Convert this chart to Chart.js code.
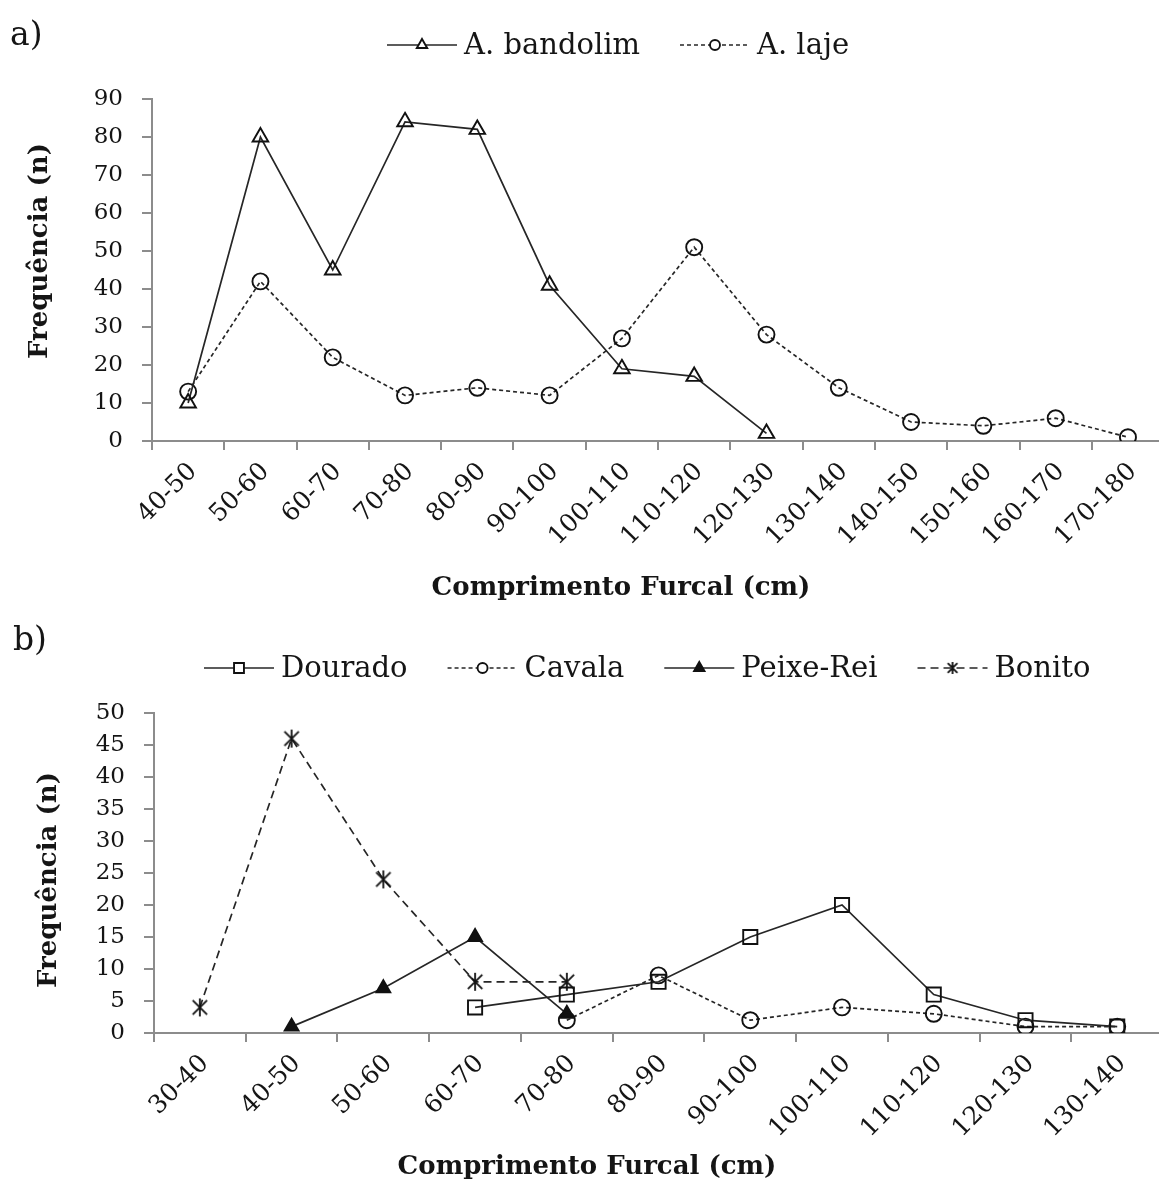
<!DOCTYPE html>
<html><head><meta charset="utf-8">
<script src="https://cdn.jsdelivr.net/npm/chart.js@4/dist/chart.umd.min.js"></script>
<style>
html,body{margin:0;padding:0;overflow:hidden;background:#fff;width:1159px;height:1185px;position:relative}
canvas{position:absolute;left:0}
#ca{top:0}
#cb{top:600px}
</style></head><body>
<canvas id="ca" width="1175" height="600"></canvas>
<canvas id="cb" width="1175" height="585"></canvas>
<script>
// ---- Data: panel a ----
const catsA = ['40-50','50-60','60-70','70-80','80-90','90-100','100-110','110-120','120-130','130-140','140-150','150-160','160-170','170-180'];
const bandolim = [10, 80, 45, 84, 82, 41, 19, 17, 2, null, null, null, null, null];
const laje = [13, 42, 22, 12, 14, 12, 27, 51, 28, 14, 5, 4, 6, 1];
const yTicksA = {min: 0, max: 90, step: 10};

// ---- Data: panel b ----
const catsB = ['30-40','40-50','50-60','60-70','70-80','80-90','90-100','100-110','110-120','120-130','130-140'];
const dourado = [null, null, null, 4, 6, 8, 15, 20, 6, 2, 1];
const cavala = [null, null, null, null, 2, 9, 2, 4, 3, 1, 1];
const peixeRei = [null, 1, 7, 15, 3, null, null, null, null, null, null];
const bonito = [4, 46, 24, 8, 8, null, null, null, null, null, null];
const yTicksB = {min: 0, max: 50, step: 5};

const FONT = '"DejaVu Serif", "Liberation Serif", serif';
const AXIS = '#8c8c8c';
const LINE = '#262626';
const TXT = '#151515';

// asterisk marker (X with a vertical bar) as a small canvas
function asterisk(r) {
  const c = document.createElement('canvas');
  const s = Math.ceil(r * 2 + 4);
  c.width = s; c.height = s;
  const g = c.getContext('2d');
  const m = s / 2;
  g.strokeStyle = '#111'; g.lineWidth = 1.8;
  g.beginPath();
  g.moveTo(m - r*0.8, m - r*0.8); g.lineTo(m + r*0.8, m + r*0.8);
  g.moveTo(m + r*0.8, m - r*0.8); g.lineTo(m - r*0.8, m + r*0.8);
  g.moveTo(m, m - r); g.lineTo(m, m + r);
  g.stroke();
  return c;
}
const starBig = asterisk(9);
const starSmall = asterisk(6);

const deco = {
  id: 'deco',
  afterDraw(chart, args, o) {
    const ctx = chart.ctx;
    ctx.save();
    ctx.fillStyle = TXT;
    ctx.font = `${o.panel.size}px ${FONT}`;
    ctx.textAlign = 'left'; ctx.textBaseline = 'alphabetic';
    ctx.fillText(o.panel.text, o.panel.x, o.panel.y);
    ctx.font = `bold ${o.titleSize}px ${FONT}`;
    ctx.textAlign = 'center'; ctx.textBaseline = 'middle';
    ctx.fillText(o.xTitle.text, o.xTitle.x, o.xTitle.y);
    ctx.save();
    ctx.translate(o.yTitle.x, o.yTitle.y); ctx.rotate(-Math.PI/2);
    ctx.fillText(o.yTitle.text, 0, 0);
    ctx.restore();
    // legend
    const L = o.legend;
    let x = L.x; const y = L.y;
    ctx.font = `${L.size}px ${FONT}`;
    ctx.textAlign = 'left'; ctx.textBaseline = 'middle';
    chart.data.datasets.forEach(ds => {
      ctx.save();
      ctx.strokeStyle = ds.borderColor; ctx.lineWidth = ds.borderWidth;
      ctx.setLineDash(ds.borderDash || []);
      ctx.beginPath(); ctx.moveTo(x, y); ctx.lineTo(x + L.line, y); ctx.stroke();
      ctx.setLineDash([]);
      ctx.fillStyle = ds.pointBackgroundColor === 'transparent' ? '#fff' : ds.pointBackgroundColor;
      ctx.strokeStyle = ds.pointBorderColor; ctx.lineWidth = ds.pointBorderWidth;
      const cx = x + L.line/2;
      if (typeof ds.pointStyle !== 'string') {
        ctx.drawImage(starSmall, cx - starSmall.width/2, y - starSmall.height/2);
      } else {
        const r = L.radius[ds.pointStyle] || 5;
        Chart.helpers.drawPoint(ctx, {pointStyle: ds.pointStyle, radius: r, rotation: 0, borderWidth: ds.pointBorderWidth}, cx, y);
      }
      ctx.restore();
      ctx.fillStyle = TXT;
      ctx.fillText(ds.label, x + L.line + L.gap, y + 1);
      x += L.line + L.gap + ctx.measureText(ds.label).width + L.spacing;
    });
    ctx.restore();
  }
};

function ds(label, data, style, radius, dash, filled) {
  return {
    label, data, borderColor: LINE, borderWidth: 1.7, borderDash: dash,
    pointStyle: style, pointRadius: radius, pointHoverRadius: radius,
    pointBorderColor: '#111', pointBorderWidth: 1.9,
    pointBackgroundColor: filled ? '#111' : 'transparent',
    tension: 0, spanGaps: false, fill: false
  };
}

function scales(yt, leftW, xH) {
  return {
    x: {
      type: 'category', offset: true,
      grid: {display: true, drawOnChartArea: false, drawTicks: true, tickLength: 9, color: AXIS, lineWidth: 2, offset: true},
      border: {display: true, color: AXIS, width: 2},
      ticks: {autoSkip: false, minRotation: 45, maxRotation: 45, color: TXT, padding: 7, labelOffset: 5, font: {family: FONT, size: 25}},
      afterFit: s => { s.height = xH; }
    },
    y: {
      min: yt.min, max: yt.max,
      grid: {display: true, drawOnChartArea: false, drawTicks: true, tickLength: 10, color: AXIS, lineWidth: 2},
      border: {display: true, color: AXIS, width: 2},
      ticks: {stepSize: yt.step, color: TXT, padding: 19, font: {family: FONT, size: 23}},
      afterFit: s => { s.width = leftW; }
    }
  };
}

const common = {
  responsive: false, animation: false, devicePixelRatio: 1,
  plugins: {legend: {display: false}, tooltip: {enabled: false}}
};

new Chart(document.getElementById('ca'), {
  type: 'line',
  data: {
    labels: catsA,
    datasets: [
      ds('A. bandolim', bandolim, 'triangle', 9, [], false),
      ds('A. laje', laje, 'circle', 8, [4, 3], false)
    ]
  },
  options: Object.assign({}, common, {
    layout: {padding: {top: 99, left: 0, right: 9, bottom: 0}},
    scales: scales(yTicksA, 152, 159),
    plugins: Object.assign({}, common.plugins, {
      deco: {
        panel: {text: 'a)', x: 10, y: 45, size: 33},
        titleSize: 26,
        xTitle: {text: 'Comprimento Furcal (cm)', x: 621, y: 588},
        yTitle: {text: 'Frequência (n)', x: 40, y: 251},
        legend: {x: 387, y: 45, size: 29, line: 70, gap: 7, spacing: 40, radius: {triangle: 6, circle: 5, rect: 6}}
      }
    })
  }),
  plugins: [deco]
});

new Chart(document.getElementById('cb'), {
  type: 'line',
  data: {
    labels: catsB,
    datasets: [
      ds('Dourado', dourado, 'rect', 10, [], false),
      ds('Cavala', cavala, 'circle', 8, [4, 3], false),
      ds('Peixe-Rei', peixeRei, 'triangle', 8, [], true),
      ds('Bonito', bonito, starBig, 9, [8, 5], false)
    ]
  },
  options: Object.assign({}, common, {
    layout: {padding: {top: 113, left: 0, right: 9, bottom: 0}},
    scales: scales(yTicksB, 154, 152),
    plugins: Object.assign({}, common.plugins, {
      deco: {
        panel: {text: 'b)', x: 13, y: 50, size: 33},
        titleSize: 26,
        xTitle: {text: 'Comprimento Furcal (cm)', x: 587, y: 567},
        yTitle: {text: 'Frequência (n)', x: 49, y: 280},
        legend: {x: 204, y: 68, size: 29, line: 70, gap: 7, spacing: 40, radius: {triangle: 6, circle: 5, rect: 7}}
      }
    })
  }),
  plugins: [deco]
});
</script>
</body></html>
